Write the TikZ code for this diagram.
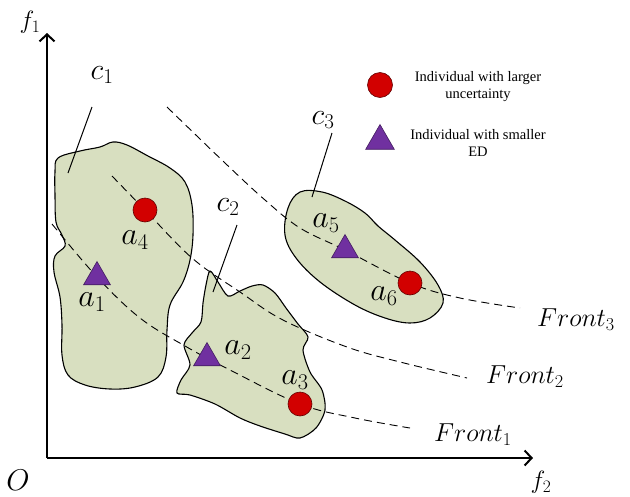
\RequirePackage{fix-cm}
\documentclass[tikz,border=0pt]{standalone}
\usepackage{fontspec}
\setmainfont{Liberation Serif}
\usetikzlibrary{shapes.geometric,arrows.meta}
\definecolor{blobfill}{RGB}{216,223,192}
\definecolor{redm}{RGB}{210,0,0}
\definecolor{purm}{RGB}{112,48,160}
\begin{document}
\begin{tikzpicture}[x=1pt,y=-1pt,
 blob/.style={draw=black,line width=1.1pt,fill=blobfill},
 front/.style={draw=black,line width=0.9pt,dash pattern=on 8pt off 5pt},
 circm/.style={circle,draw=black!60!red,line width=0.6pt,fill=redm,minimum size=24pt,inner sep=0pt},
 trim/.style={regular polygon,regular polygon sides=3,draw=purm!60!black,line width=0.6pt,fill=purm,minimum size=31pt,inner sep=0pt},
 lbl/.style={font=\fontsize{32}{34}\selectfont,inner sep=0pt},
 clbl/.style={font=\fontsize{30}{32}\selectfont,inner sep=0pt},
 frlbl/.style={font=\fontsize{26}{28}\selectfont,inner sep=0pt},
 axlbl/.style={font=\fontsize{25}{27}\selectfont,inner sep=0pt},
 legtxt/.style={font=\fontsize{14.5}{17}\selectfont,align=center,inner sep=0pt},
 leader/.style={draw=black,line width=1pt},
 axis/.style={draw=black,line width=2.2pt,-{Straight Barb[length=7pt,width=15pt,line width=2pt]}}
]
\useasboundingbox (0,0) rectangle (630,496);

% axes
\coordinate (origin) at (47,458);
\coordinate (ytop) at (47,33);
\coordinate (xend) at (533,458);
\draw[axis] (origin) -- (ytop);
\draw[axis] (origin) -- (xend);
\node[axlbl] (f1) at (30,22) {$f_1$};
\node[axlbl] (f2) at (541,482) {$f_2$};
\node[font=\fontsize{30}{32}\selectfont,inner sep=0pt] (O) at (18,480) {$O$};

% blobs
\draw[blob] plot[smooth cycle,tension=0.6] coordinates {
 (58,158) (80,151) (100,147) (113,142) (127,145) (148,156) (170,168) (185,182)
 (192,205) (193,235) (190,260) (183,282) (170,305) (167,330) (166,357) (158,377)
 (135,387) (110,389) (85,385) (68,375) (62,355) (62,325) (60,297) (54,272)
 (55,256) (65,246) (62,235) (56,222) (55,195) (55,172)};
\draw[blob] plot[smooth cycle,tension=0.5] coordinates {
 (210,271) (218,282) (228,296) (240,291) (252,286) (263,285) (275,293) (286,308)
 (298,324) (308,337) (303,350) (310,372) (322,390) (325,410) (316,428) (300,438)
 (285,434) (260,426) (240,418) (215,404) (190,395) (177,393) (181,380) (190,365)
 (184,345) (192,333) (201,322) (203,303) (206,285)};
\draw[blob] plot[smooth cycle,tension=0.6] coordinates {
 (300,192) (322,192) (345,201) (365,213) (378,226) (395,240) (420,262) (438,285)
 (443,303) (430,318) (410,323) (385,318) (355,305) (320,282) (296,258) (285,235)
 (288,208)};

% fronts
\draw[front] plot[smooth,tension=0.6] coordinates {
 (52,224) (97,277) (140,318) (185,346) (230,370) (300,404) (355,418) (410,428)};
\draw[front] plot[smooth,tension=0.6] coordinates {
 (112,176) (145,210) (192,258) (240,292) (283,320) (347,347) (400,362) (467,378)};
\draw[front] plot[smooth,tension=0.6] coordinates {
 (167,107) (225,163) (265,200) (300,228) (345,250) (410,283) (460,298) (520,308)};
\node[frlbl] (fr1) at (473,435) {$Front_1$};
\node[frlbl] (fr2) at (525,377) {$Front_2$};
\node[frlbl] (fr3) at (576,320) {$Front_3$};

% markers
\node[trim] (m1) at (97,277) {};
\node[trim] (m2) at (207,358) {};
\node[circm] (m3) at (300,404) {};
\node[circm] (m4) at (145,210) {};
\node[trim] (m5) at (345,250) {};
\node[circm] (m6) at (410,283) {};

\node[lbl] (a1) at (92,302) {$a_1$};
\node[lbl] (a2) at (238,350) {$a_2$};
\node[lbl] (a3) at (295,380) {$a_3$};
\node[lbl] (a4) at (135,240) {$a_4$};
\node[lbl] (a5) at (326,223) {$a_5$};
\node[lbl] (a6) at (384,296) {$a_6$};

% cluster labels and leaders
\node[clbl] (c1) at (102,75) {$c_1$};
\node[clbl] (c2) at (228,207) {$c_2$};
\node[clbl] (c3) at (323,120) {$c_3$};
\coordinate (c1a) at (92,107); \coordinate (c1b) at (68,173);
\coordinate (c2a) at (237,225); \coordinate (c2b) at (213,292);
\coordinate (c3a) at (332,133); \coordinate (c3b) at (312,197);
\draw[leader] (c1a) -- (c1b);
\draw[leader] (c2a) -- (c2b);
\draw[leader] (c3a) -- (c3b);

% legend
\node[circm,minimum size=25pt] (lc) at (380,85) {};
\node[trim,minimum size=33pt] (lt) at (380,141) {};
\node[legtxt] (lct) at (478,87) {Individual with larger\\uncertainty};
\node[legtxt] (ltt) at (478,143) {Individual with smaller\\ED};
\end{tikzpicture}
\end{document}
